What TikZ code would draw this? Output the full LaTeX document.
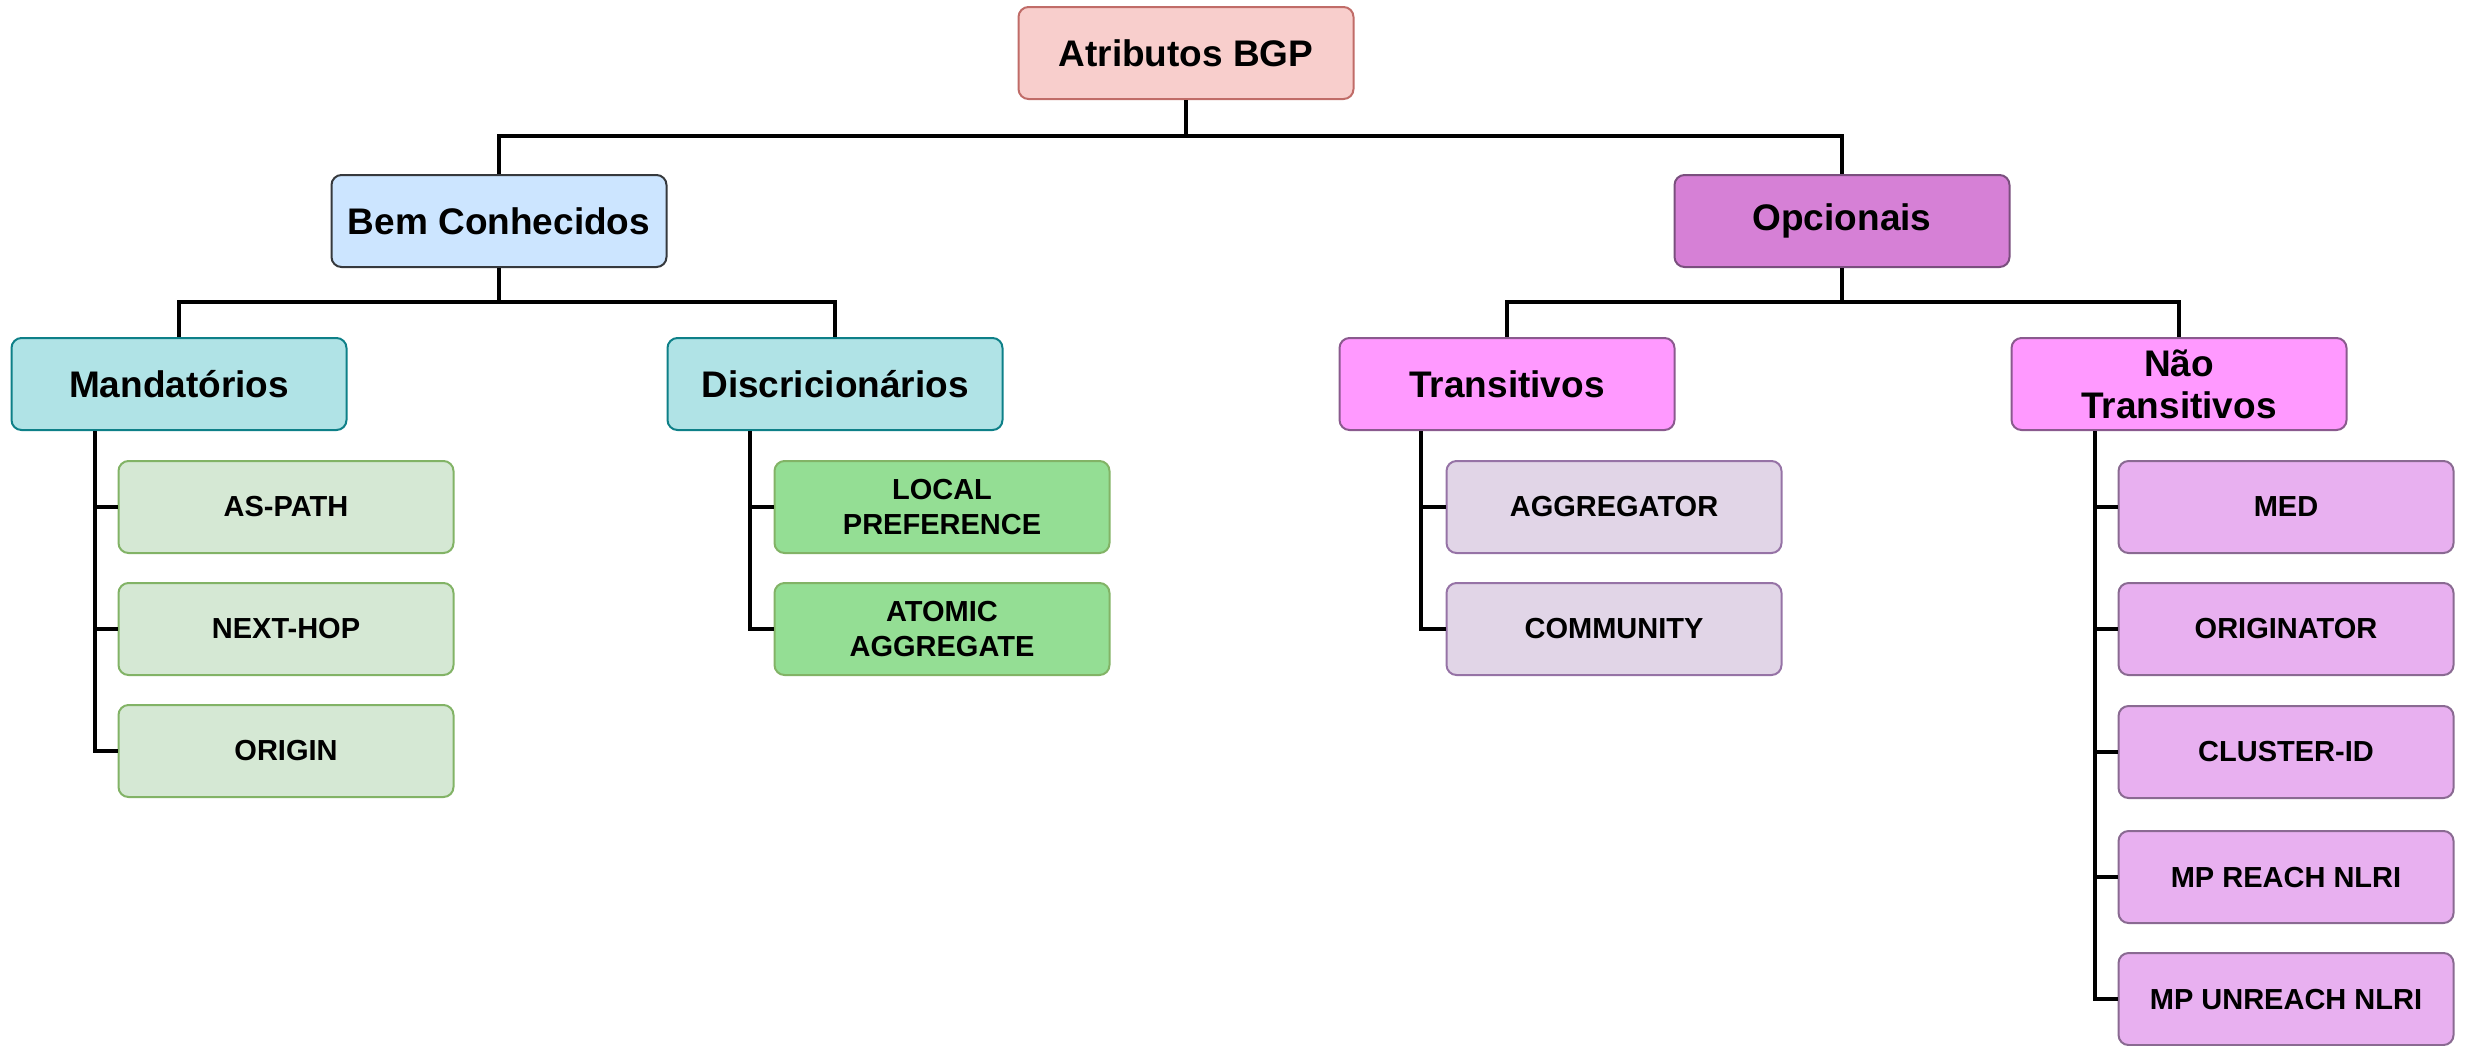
\documentclass[tikz,border=0pt]{standalone}
\usepackage{fontspec}
\setmainfont{Liberation Sans}
\usetikzlibrary{calc}
\definecolor{rootF}{HTML}{F8CECC}\definecolor{rootD}{HTML}{C06C68}
\definecolor{bemF}{HTML}{CCE5FF}\definecolor{bemD}{HTML}{36393D}
\definecolor{tealF}{HTML}{B0E3E6}\definecolor{tealD}{HTML}{0E8088}
\definecolor{lgF}{HTML}{D5E8D4}\definecolor{lgD}{HTML}{82B366}
\definecolor{gF}{HTML}{94DE94}\definecolor{gD}{HTML}{82B366}
\definecolor{opcF}{HTML}{D680D6}\definecolor{opcD}{HTML}{7A4F7E}
\definecolor{trF}{HTML}{FF99FF}\definecolor{trD}{HTML}{8A5A8E}
\definecolor{agF}{HTML}{E1D5E7}\definecolor{agD}{HTML}{9673A6}
\definecolor{mdF}{HTML}{E8B0F0}\definecolor{mdD}{HTML}{8A6A92}
\tikzset{
  box/.style={rectangle, rounded corners=5pt, line width=1pt, align=center,
    minimum width=167.5pt, minimum height=46pt, inner sep=2pt, font=\bfseries},
  big/.style={box, font=\fontsize{18.5}{21}\selectfont\bfseries},
  small/.style={box, font=\fontsize{14.5}{17.5}\selectfont\bfseries},
  tree/.style={line width=1.8pt, black},
}
\begin{document}
\begin{tikzpicture}[x=0.5pt,y=-0.5pt]
\useasboundingbox (0,0) rectangle (2466,1045);
% level 0
\node[big, fill=rootF, draw=rootD] (root) at (1186,53) {Atributos BGP};
% level 1
\node[big, fill=bemF, draw=bemD] (bem) at (499,221) {Bem Conhecidos};
\node[big, fill=opcF, draw=opcD] (opc) at (1842,221) {Opcionais};
% level 2
\node[big, fill=tealF, draw=tealD] (mand) at (179,384) {Mandatórios};
\node[big, fill=tealF, draw=tealD] (disc) at (835,384) {Discricionários};
\node[big, fill=trF, draw=trD] (trans) at (1507,384) {Transitivos};
\node[big, fill=trF, draw=trD] (nao) at (2179,384) {Não\\Transitivos};
% leaves
\node[small, fill=lgF, draw=lgD] (aspath) at (286,507) {AS-PATH};
\node[small, fill=lgF, draw=lgD] (nexthop) at (286,629) {NEXT-HOP};
\node[small, fill=lgF, draw=lgD] (origin) at (286,751) {ORIGIN};
\node[small, fill=gF, draw=gD] (localpref) at (942,507) {LOCAL\\PREFERENCE};
\node[small, fill=gF, draw=gD] (atomic) at (942,629) {ATOMIC\\AGGREGATE};
\node[small, fill=agF, draw=agD] (aggr) at (1614,507) {AGGREGATOR};
\node[small, fill=agF, draw=agD] (comm) at (1614,629) {COMMUNITY};
\node[small, fill=mdF, draw=mdD] (med) at (2286,507) {MED};
\node[small, fill=mdF, draw=mdD] (orig) at (2286,629) {ORIGINATOR};
\node[small, fill=mdF, draw=mdD] (cluster) at (2286,752) {CLUSTER-ID};
\node[small, fill=mdF, draw=mdD] (mpr) at (2286,877) {MP REACH NLRI};
\node[small, fill=mdF, draw=mdD] (mpu) at (2286,999) {MP UNREACH NLRI};
% bus coordinates
\coordinate (b1) at (0,136);
\coordinate (b2) at (0,302);
\coordinate (vm) at (95,0);
\coordinate (vd) at (750,0);
\coordinate (vt) at (1421,0);
\coordinate (vn) at (2095,0);
% tree connectors
\draw[tree] (root.south) -- (root.south |- b1) -| (bem.north);
\draw[tree] (root.south |- b1) -| (opc.north);
\draw[tree] (bem.south) -- (bem.south |- b2) -| (mand.north);
\draw[tree] (bem.south |- b2) -| (disc.north);
\draw[tree] (opc.south) -- (opc.south |- b2) -| (trans.north);
\draw[tree] (opc.south |- b2) -| (nao.north);
% side connectors
\draw[tree] (mand.south -| vm) |- (origin.west);
\draw[tree] (mand.south -| vm) |- (aspath.west);
\draw[tree] (mand.south -| vm) |- (nexthop.west);
\draw[tree] (disc.south -| vd) |- (atomic.west);
\draw[tree] (disc.south -| vd) |- (localpref.west);
\draw[tree] (trans.south -| vt) |- (comm.west);
\draw[tree] (trans.south -| vt) |- (aggr.west);
\draw[tree] (nao.south -| vn) |- (mpu.west);
\draw[tree] (nao.south -| vn) |- (med.west);
\draw[tree] (nao.south -| vn) |- (orig.west);
\draw[tree] (nao.south -| vn) |- (cluster.west);
\draw[tree] (nao.south -| vn) |- (mpr.west);
\end{tikzpicture}
\end{document}
